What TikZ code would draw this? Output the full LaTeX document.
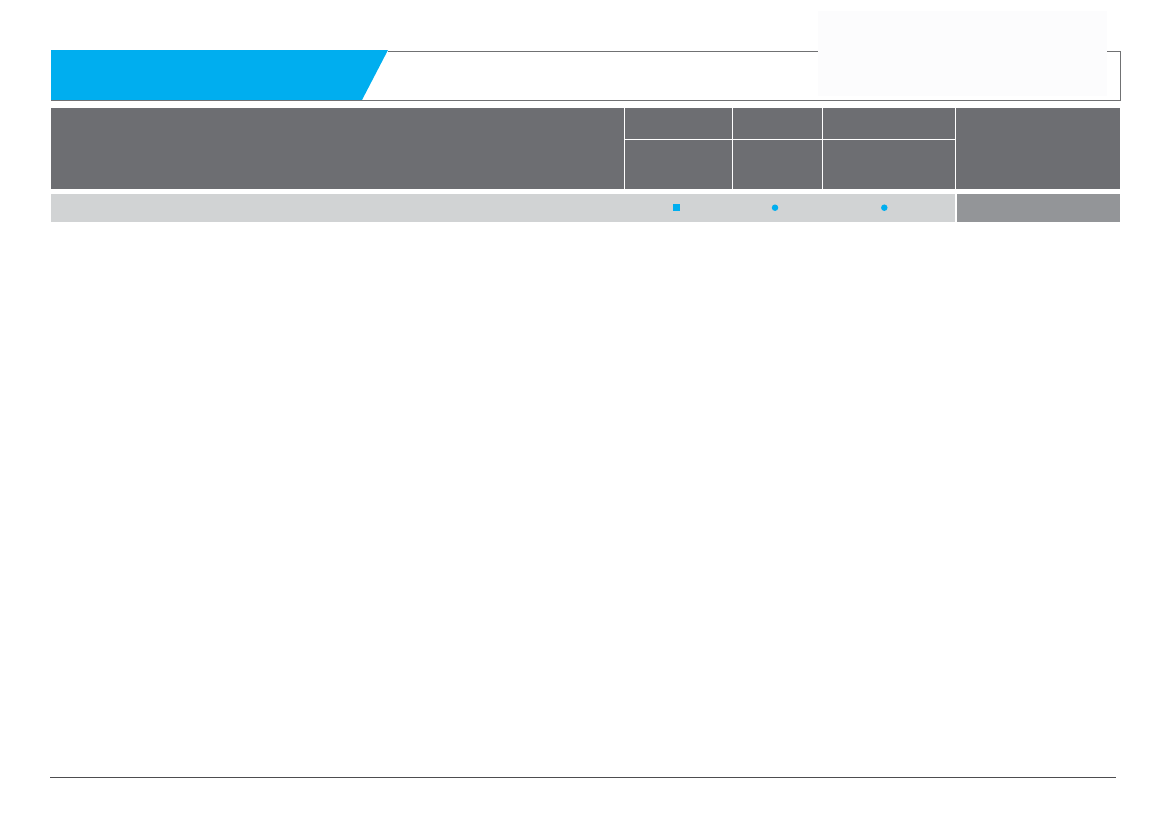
\documentclass[tikz,border=0pt]{standalone}
\usepackage{xcolor}
\usetikzlibrary{positioning}
\definecolor{bandblue}{HTML}{00AEEF}
\definecolor{headgray}{HTML}{6D6E72}
\definecolor{rowgray}{HTML}{D1D3D4}
\definecolor{sidegray}{HTML}{939598}
\definecolor{rulegray}{HTML}{707173}
\definecolor{footgray}{HTML}{4D4D4F}
\definecolor{patchwhite}{HTML}{FCFCFD}
\tikzset{
	rule/.style = { draw = rulegray, line width = 1pt },
	cellline/.style = { draw = white, line width = 1.5pt },
	marker/.style = { fill = bandblue, inner sep = 0pt, minimum size = 6.5pt }
}

\begin{document}
\begin{tikzpicture}[x = 1pt, y = -1pt]
		\useasboundingbox (0,0) rectangle (1169,827);

		% title band
		\fill [bandblue] (51,50) -- (388,50) -- (362,100) -- (51,100) -- cycle;
		\draw [rule] (388,51) -- (1120,51) -- (1120,100) -- (51,100);
		\fill [patchwhite] (818,11) rectangle (1107,96);

		% table head
		\fill [headgray] (51,108) rectangle (1120,189);
		\draw [cellline] (624.5,108) -- (624.5,189);
		\draw [cellline] (732.5,108) -- (732.5,189);
		\draw [cellline] (822.5,108) -- (822.5,189);
		\draw [cellline] (955.5,108) -- (955.5,189);
		\draw [cellline] (624.5,139.3) -- (955.5,139.3);

		% first row
		\fill [rowgray] (51,194) rectangle (955,222);
		\fill [sidegray] (956.5,194) rectangle (1120,221.5);
		\node [marker, rectangle] (m1) at (676.7,207.7) {};
		\node [marker, circle]    (m2) at (775,207.7) {};
		\node [marker, circle]    (m3) at (884.3,207.7) {};

		% footer
		\draw [draw = footgray, line width = 1.2pt] (50,777.3) -- (1115.7,777.3);
	\end{tikzpicture}
\end{document}
